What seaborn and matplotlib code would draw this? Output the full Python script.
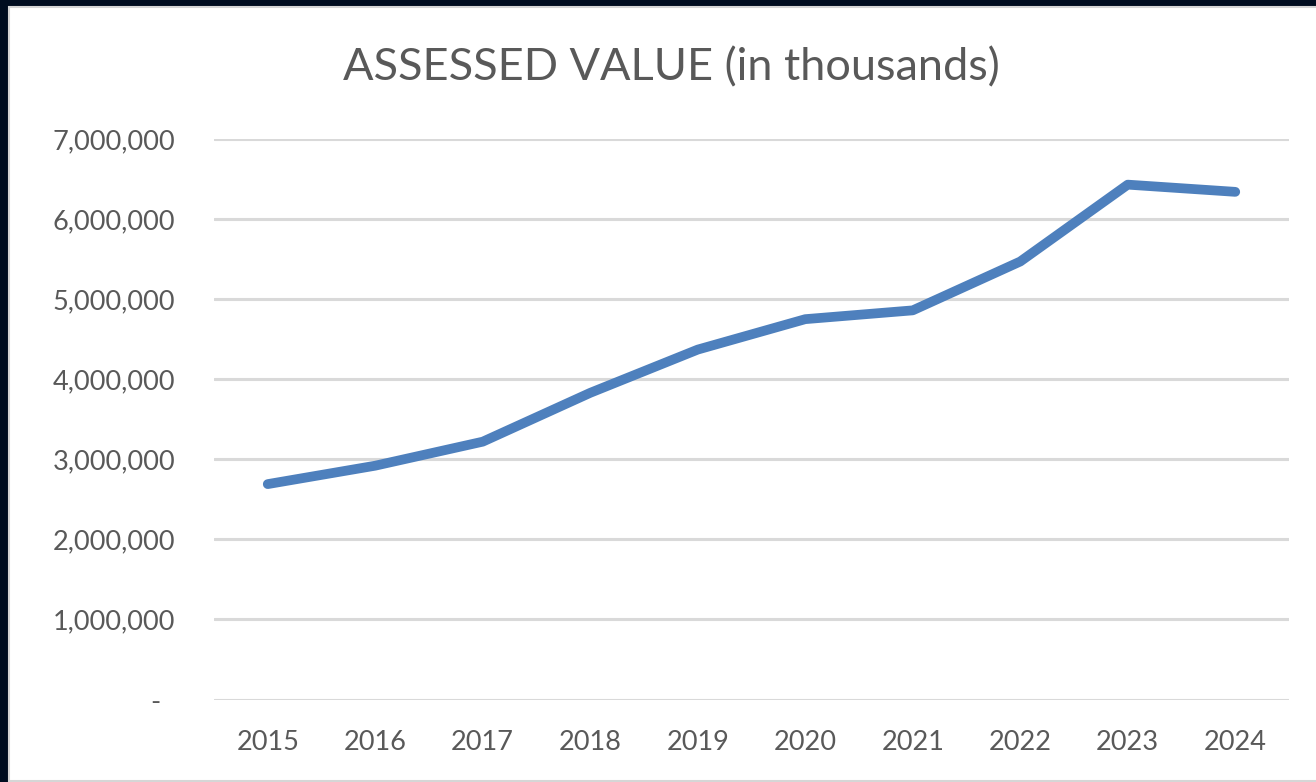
import seaborn as sns
import pandas as pd
import matplotlib.pyplot as plt
from matplotlib.patches import Rectangle
from matplotlib.ticker import FuncFormatter

years = [2015, 2016, 2017, 2018, 2019, 2020, 2021, 2022, 2023, 2024]
assessed = [2690000, 2920000, 3220000, 3830000, 4370000, 4750000, 4860000, 5470000, 6430000, 6340000]
y_ticks = [0, 1000000, 2000000, 3000000, 4000000, 5000000, 6000000, 7000000]

df = pd.DataFrame({"year": years, "value": assessed})

sns.set_style("white")
plt.rcParams["font.family"] = ["Lato", "DejaVu Sans"]

fig = plt.figure(figsize=(13.16, 7.82), dpi=100, facecolor="#000d20")
# white chart panel with thin grey edge
fig.patches.append(Rectangle((9 / 1316, 1 / 782), 1.0, 774 / 782, transform=fig.transFigure,
                             facecolor="white", edgecolor="#d6d6d6", linewidth=1.5, zorder=-10))

ax = fig.add_axes([214 / 1316, 1 - 699.5 / 782, 1075 / 1316, 560.5 / 782])
ax.set_facecolor("none")
ax.set_zorder(2)

sns.lineplot(data=df, x="year", y="value", ax=ax, color="#4e80bd", linewidth=7,
             solid_capstyle="round", solid_joinstyle="round", zorder=3)

ax.set_xlim(2014.5, 2024.5)
ax.set_ylim(0, 7000000)
ax.set_xticks(years)
ax.set_yticks(y_ticks)
# accounting style: zero shown as a dash
ax.yaxis.set_major_formatter(FuncFormatter(lambda v, p: "-  " if v == 0 else f"{int(v):,}"))
ax.grid(axis="y", color="#d9d9d9", linewidth=2.2)
ax.grid(axis="x", visible=False)
for s in ax.spines.values():
    s.set_visible(False)
ax.tick_params(axis="both", length=0, labelsize=19.5, labelcolor="#595959")
ax.tick_params(axis="y", pad=28)
ax.tick_params(axis="x", pad=22)
ax.set_xlabel("")
ax.set_ylabel("")

fig.text(671 / 1316, 1 - 68 / 782, "ASSESSED VALUE (in thousands)", ha="center", va="center",
         fontsize=32.5, color="#595959")

fig.savefig("out.png", dpi=100, facecolor=fig.get_facecolor())
